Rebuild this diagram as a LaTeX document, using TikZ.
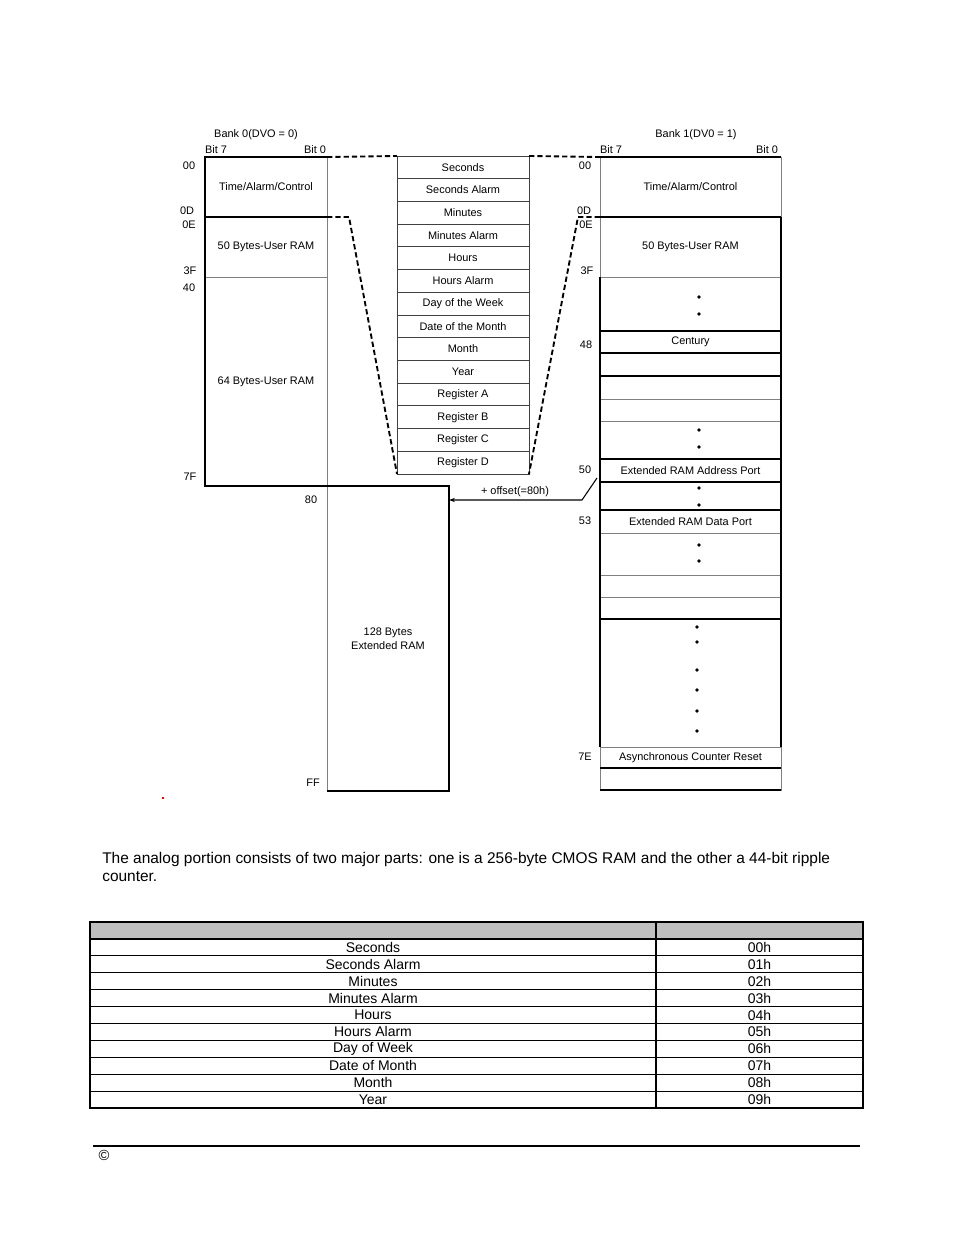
\documentclass[tikz,border=0pt]{standalone}
\usepackage{fontspec}
\setmainfont{Liberation Sans}
\usetikzlibrary{arrows.meta,calc}
\begin{document}
\begin{tikzpicture}[x=0.75pt,y=-0.75pt,
 lbl/.style={font=\fontsize{8.2}{9.5}\selectfont, inner sep=0pt},
 cell/.style={draw=black!50, line width=0.75pt, inner sep=0pt, outer sep=0pt, font=\fontsize{8.2}{9.5}\selectfont, align=center},
 mcell/.style={cell, draw=black!75},
 sz/.style 2 args={minimum width=(#1)*0.75pt, minimum height=(#2)*0.75pt},
 blk/.style={draw=black, line width=0.8pt},
 bold/.style={draw=black, line width=1.5pt},
 dsh/.style={draw=black, line width=1.4pt, dash pattern=on 4pt off 2.2pt},
 dotn/.style={circle, fill=black, inner sep=0pt, minimum size=2.8pt},
 tcell/.style={draw=black, line width=0.8pt, inner sep=0pt, outer sep=0pt, font=\fontsize{10.5}{12}\selectfont},
 ptext/.style={inner sep=0pt, font=\fontsize{11.6}{13}\selectfont},
]
\useasboundingbox (0,0) rectangle (954,1235);
\fill[white] (0,0) rectangle (954,1235);

% ---------- Bank 0 ----------
\node[lbl] (bank0) at (256,135) {Bank 0(DVO = 0)};
\node[lbl] (b0bit7) at (216,150) {Bit 7};
\node[lbl] (b0bit0) at (315,150) {Bit 0};
\node[cell, sz={122}{60}] (b0a) at (266,187) {Time/Alarm/Control};
\node[cell, sz={122}{60}] (b0b) at (266,247) {50 Bytes-User RAM};
\node[cell, sz={122}{209}] (b0c) at (266,381.5) {64 Bytes-User RAM};
\node[cell, sz={122}{305}, font=\fontsize{8.2}{10.5}\selectfont] (ext) at (388,638.5) {128 Bytes\\Extended RAM};
\draw[blk] (b0a.north east) -- (b0a.north west) -- (b0c.south west) -- (ext.north east) -- (ext.south east) -- (ext.south west);
\draw[blk] (b0a.south west) -- (b0a.south east);

\foreach \x/\y/\t [count=\i] in {189/166/00, 187/211/0D, 189/225/0E, 190/271/3F, 189/288/40, 190/477/7F, 311/500/80, 313/783/FF}
  \node[lbl] (la\i) at (\x,\y) {\t};

% ---------- middle column ----------
\foreach \t [count=\i] in {Seconds, Seconds Alarm, Minutes, Minutes Alarm, Hours, Hours Alarm, Day of the Week, Date of the Month, Month, Year, Register A, Register B, Register C, Register D}
  \node[mcell, sz={132}{22.714}] (m\i) at (463,{156+22.714*(\i-0.5)}) {\t};

% ---------- Bank 1 ----------
\node[lbl] (bank1) at (696,135) {Bank 1(DV0 = 1)};
\node[lbl] (b1bit7) at (611,150) {Bit 7};
\node[lbl] (b1bit0) at (767,150) {Bit 0};
\node[cell, sz={181}{60}] (r1) at (690.5,187) {Time/Alarm/Control};
\foreach \ya/\yb/\t [count=\i from 2] in {217/277/50 Bytes-User RAM, 277/331/{}, 331/353/Century, 353/376/{}, 376/399/{}, 399/421/{}, 421/459/{}, 459/482/Extended RAM Address Port, 482/510/{}, 510/533/Extended RAM Data Port, 533/575/{}, 575/597/{}, 597/619/{}, 619/747/{}, 747/768/Asynchronous Counter Reset, 768/790/{}}
  \node[cell, sz={181}{\yb-\ya}] (r\i) at (690.5,{(\ya+\yb)/2}) {\t};
\draw[bold] (r3.north west) -- (r15.south west);
\draw[blk, line width=1.2pt] (r2.north east) -- (r15.south east);
\draw[blk] (r1.north west) -- (r1.north east);
\draw[blk] (r1.south west) -- (r1.south east);
\foreach \n in {4,5,6,9,10,11,15,17}
  \draw[blk] (r\n.north west) -- (r\n.north east);
\draw[blk] (r17.south west) -- (r17.south east);

\foreach \x/\y [count=\i] in {699/297, 699/314, 699/430, 699/447, 699/488, 699/505, 699/545, 699/561, 697/627, 697/642, 697/670, 697/690, 697/711, 697/731}
  \node[dotn] (dt\i) at (\x,\y) {};

\foreach \x/\y/\t [count=\i] in {585/166/00, 584/211/0D, 586/225/0E, 587/271/3F, 586/345/48, 585/470/50, 585/521/53, 585/757/7E}
  \node[lbl] (ra\i) at (\x,\y) {\t};

% ---------- dashed connectors ----------
\draw[dsh] (b0a.north east) -- (m1.north west);
\draw[dsh] (m1.north east) -- (r1.north west);
\draw[dsh] (b0a.south east) -- ++(22,0) -- (m14.south west);
\draw[dsh] (r1.south west) -- ++(-22,0) -- (m14.south east);

% ---------- offset arrow ----------
\coordinate (ak) at (582,500);
\draw[line width=0.8pt, -{Stealth[length=4.5pt,width=3.2pt]}] ($(r10.north west)+(-3,-4)$) -- (ak) -- (ak -| ext.east);
\node[lbl] (off) at (515,492) {+ offset(=80h)};

\fill[red] (162,797) rectangle (164,799);

% ---------- paragraph ----------
\node[ptext, anchor=base west] (para1) at (102,863) {The analog portion consists of two major parts: one is a 256-byte CMOS RAM and the other a 44-bit ripple};
\node[ptext, anchor=base west] (para2) at (102,881) {counter.};

% ---------- table ----------
\node[tcell, fill=gray!50, sz={566}{17}] (h1) at (373,930.5) {};
\node[tcell, fill=gray!50, sz={207}{17}] (h2) at (759.5,930.5) {};
\foreach \t/\v [count=\i] in {Seconds/00h, Seconds Alarm/01h, Minutes/02h, Minutes Alarm/03h, Hours/04h, Hours Alarm/05h, Day of Week/06h, Date of Month/07h, Month/08h, Year/09h}{
  \node[tcell, sz={566}{16.9}] (tl\i) at (373,{939+16.9*(\i-0.5)}) {\t};
  \node[tcell, sz={207}{16.9}] (tr\i) at (759.5,{939+16.9*(\i-0.5)}) {\v};
}

% ---------- footer ----------
\coordinate (fl) at (93,1146);
\coordinate (fr) at (860,1146);
\draw[line width=1pt] (fl) -- (fr);
\node[inner sep=0pt, font=\fontsize{11}{12}\selectfont] (copy) at (104,1155) {©};
\end{tikzpicture}
\end{document}
